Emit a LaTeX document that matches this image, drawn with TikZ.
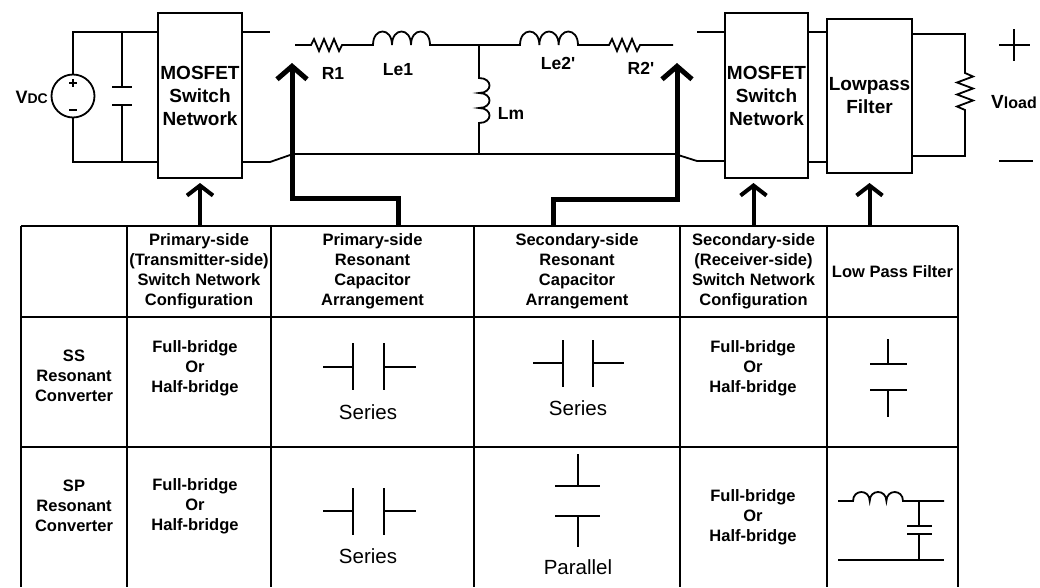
\documentclass[tikz,border=0pt]{standalone}
\usepackage{fontspec}
\setmainfont{Liberation Sans}
\usetikzlibrary{arrows.meta}
\begin{document}
\begin{tikzpicture}[x=1pt,y=-1pt,
 wire/.style={line width=1.8pt},
 grid/.style={line width=2pt},
 thin/.style={line width=1.3pt},
 box/.style={draw,line width=2pt,inner sep=0pt,align=center,font=\fontsize{19}{23}\selectfont\bfseries},
 cell/.style={inner sep=0pt,align=center,font=\fontsize{16.5}{20}\selectfont\bfseries},
 lbl/.style={inner sep=0pt,font=\fontsize{17.5}{20}\selectfont\bfseries},
 capname/.style={inner sep=0pt,font=\fontsize{20.5}{24}\selectfont},
 bigarrow/.style={line width=5pt,-{Straight Barb[length=13pt,width=30pt]}},
 smallarrow/.style={line width=4pt,-{Straight Barb[length=10pt,width=26pt]},shorten >=4pt},
 comp/.style={line width=1.8pt}
]
\useasboundingbox (0,0) rectangle (1040,587);

% ---------- blocks ----------
\node[box,minimum width=84pt,minimum height=165pt] (mosA) at (200,95.5) {MOSFET\\Switch\\Network};
\node[box,minimum width=83pt,minimum height=165pt] (mosB) at (766.5,95.5) {MOSFET\\Switch\\Network};
\node[box,minimum width=85pt,minimum height=154pt] (lpf) at (869.5,96) {Lowpass\\Filter};

% ---------- source side ----------
\node[draw,circle,line width=1.8pt,minimum size=43pt,inner sep=0pt] (src) at (73,96) {};
\draw[thin] (69,83)--(77,83) (73,79)--(73,87) (69,110)--(77,110);
\node[anchor=east,inner sep=0pt,font=\bfseries] (vdc) at (48,97) {\fontsize{18}{20}\selectfont V\fontsize{14}{16}\selectfont DC};
\draw[wire] (src.north) -- (73,32) -- (158,32);
\draw[wire] (src.south) -- (73,162) -- (158,162);
\draw[wire] (122,32) -- (122,87) (112,87) -- (132,87) (112,105) -- (132,105) (122,105) -- (122,162);

% ---------- outputs of first switch network ----------
\draw[wire] (242,32) -- (270,32);
\draw[wire] (242,162) -- (270,162) -- (293,154) -- (675,154) -- (697,161) -- (725,161);

% ---------- series branch ----------
\draw[comp] (295,45) -- (311,45)
  -- ++(3,-6) -- ++(5,12) -- ++(5,-12) -- ++(5,12) -- ++(5,-12) -- ++(5,12) -- ++(3,-6)
  -- (373,45)
  .. controls +(0,-18) and +(0,-18) .. ++(19,0)
  .. controls +(0,-18) and +(0,-18) .. ++(19,0)
  .. controls +(0,-18) and +(0,-18) .. ++(19,0)
  -- (520,45)
  .. controls +(0,-18) and +(0,-18) .. ++(19.33,0)
  .. controls +(0,-18) and +(0,-18) .. ++(19.33,0)
  .. controls +(0,-18) and +(0,-18) .. ++(19.33,0)
  -- (609,45)
  -- ++(3,-6) -- ++(5,12) -- ++(5,-12) -- ++(5,12) -- ++(5,-12) -- ++(5,12) -- ++(3,-6)
  -- (673,45);
\draw[comp] (479,45) -- (479,78)
  .. controls +(14,0) and +(14,0) .. ++(0,15)
  .. controls +(14,0) and +(14,0) .. ++(0,15)
  .. controls +(14,0) and +(14,0) .. ++(0,15)
  -- (479,154);
\node[lbl] (lR1) at (333,73) {R1};
\node[lbl] (lLe1) at (398,70) {Le1};
\node[lbl] (lLm) at (511,113) {Lm};
\node[lbl] (lLe2) at (558,63) {Le2\textquotesingle};
\node[lbl] (lR2) at (641,68) {R2\textquotesingle};

% ---------- receiver side ----------
\draw[wire] (697,32) -- (725,32);
\draw[wire] (808,32) -- (827,32) (808,162) -- (827,162);
\draw[wire] (912,34) -- (965,34) -- (965,73)
  -- ++(8,3.5) -- ++(-16,6) -- ++(16,6) -- ++(-16,6) -- ++(16,6) -- ++(-16,6) -- ++(8,3.5)
  -- (965,156) -- (912,156);
\draw[thin] (1014,29) -- (1014,61) (999,45) -- (1030,45);
\draw[thin] (999,161) -- (1033,161);
\node[anchor=west,inner sep=0pt,font=\bfseries] (vload) at (991,102) {\fontsize{19}{20}\selectfont V\fontsize{16}{18}\selectfont load};

% ---------- table ----------
\draw[grid] (21,226) -- (958,226) (21,317) -- (958,317) (21,447) -- (958,447);
\foreach \x in {21,127,271,474,680,827,958} \draw[grid] (\x,226) -- (\x,587);

\node[cell,minimum width=106pt,minimum height=91pt] (h1) at (74,271.5) {};
\node[cell,minimum width=144pt,minimum height=91pt] (h2) at (199,271.5) {Primary-side\\(Transmitter-side)\\Switch Network\\Configuration};
\node[cell,minimum width=203pt,minimum height=91pt] (h3) at (372.5,271.5) {Primary-side\\Resonant\\Capacitor\\Arrangement};
\node[cell,minimum width=206pt,minimum height=91pt] (h4) at (577,271.5) {Secondary-side\\Resonant\\Capacitor\\Arrangement};
\node[cell,minimum width=147pt,minimum height=91pt] (h5) at (753.5,271.5) {Secondary-side\\(Receiver-side)\\Switch Network\\Configuration};
\node[cell,minimum width=131pt,minimum height=91pt] (h6) at (892.5,271.5) {Low Pass Filter};

\node[cell] (a1) at (74,376) {SS\\Resonant\\Converter};
\node[cell] (a2) at (195,368) {Full-bridge\\Or\\Half-bridge};
\node[cell] (a5) at (753,368) {Full-bridge\\Or\\Half-bridge};
\node[cell] (b1) at (74,506) {SP\\Resonant\\Converter};
\node[cell] (b2) at (195,506) {Full-bridge\\Or\\Half-bridge};
\node[cell] (b5) at (753,517) {Full-bridge\\Or\\Half-bridge};

% series capacitors
\draw[comp] (323,367) -- (353,367) (353,343) -- (353,390) (384,343) -- (384,390) (384,367) -- (416,367);
\node[capname] (s1) at (368,412) {Series};
\draw[comp] (323,511) -- (353,511) (353,488) -- (353,535) (384,488) -- (384,535) (384,511) -- (416,511);
\node[capname] (s2) at (368,556) {Series};
\draw[comp] (533,363) -- (563,363) (563,340) -- (563,387) (593,340) -- (593,387) (593,363) -- (624,363);
\node[capname] (s3) at (578,408) {Series};
% parallel capacitor
\draw[comp] (578,454) -- (578,486) (555,486) -- (600,486) (555,516) -- (600,516) (578,516) -- (578,547);
\node[capname] (p1) at (578,567) {Parallel};
% low pass filters
\draw[comp] (888,339) -- (888,364) (870,364) -- (907,364) (870,390) -- (907,390) (888,390) -- (888,417);
\draw[comp] (838,501) -- (853,501)
  .. controls +(0,-12) and +(0,-12) .. ++(16.7,0)
  .. controls +(0,-12) and +(0,-12) .. ++(16.7,0)
  .. controls +(0,-12) and +(0,-12) .. ++(16.6,0)
  -- (944,501);
\draw[comp] (919,501) -- (919,526) (907,526) -- (932,526) (907,534) -- (932,534) (919,534) -- (919,560) (838,560) -- (944,560);

% ---------- connectors ----------
\coordinate (pa) at (398,226);
\coordinate (ta) at (292,63);
\coordinate (pb) at (553,226);
\coordinate (tb) at (677,63);
\draw[bigarrow] (pa) -- (398,198) -| (ta);
\draw[bigarrow] (pb) -- (553,199) -| (tb);
\draw[smallarrow] (h2.north -| mosA.south) -- (mosA.south);
\draw[smallarrow] (h5.north) -- (h5.north |- mosB.south);
\draw[smallarrow,shorten >=9pt] (lpf.south |- h6.north) -- (lpf.south);
\end{tikzpicture}
\end{document}
